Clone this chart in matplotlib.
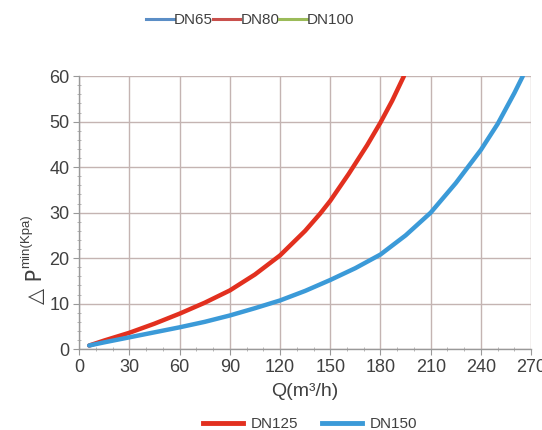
import matplotlib
matplotlib.use("Agg")
import matplotlib.pyplot as plt
from matplotlib.lines import Line2D
from matplotlib.ticker import MultipleLocator

plt.rcParams['font.family'] = ['Liberation Sans', 'DejaVu Sans']

# values
q_125 = [6, 15, 30, 45, 60, 75, 90, 105, 120, 135, 144, 150, 161, 172, 180, 187, 194]
dp_125 = [0.8, 1.9, 3.6, 5.6, 7.8, 10.2, 12.9, 16.4, 20.6, 26.0, 29.8, 32.6, 38.5, 44.8, 49.8, 54.6, 60]
q_150 = [6, 15, 30, 45, 60, 75, 90, 105, 120, 135, 150, 165, 180, 195, 210, 225, 240, 250, 260, 265]
dp_150 = [0.8, 1.5, 2.6, 3.7, 4.8, 6.0, 7.4, 9.0, 10.7, 12.8, 15.2, 17.8, 20.8, 25.0, 30.0, 36.5, 43.8, 49.5, 56.3, 60]

x_ticks = [0, 30, 60, 90, 120, 150, 180, 210, 240, 270]
y_ticks = [0, 10, 20, 30, 40, 50, 60]

top_names = ['DN65', 'DN80', 'DN100']
top_colors = ['#5b8ec6', '#c9504c', '#9bbb59']

red = '#e2301f'
blue = '#3b9ad8'
grid_c = '#c4b4b2'
txt = '#404040'

fig = plt.figure(figsize=(5.42, 4.30), dpi=100)
ax = fig.add_axes([0.146, 0.188, 0.834, 0.635])

ax.plot(q_125, dp_125, color=red, lw=3.2, solid_capstyle='round', solid_joinstyle='round', zorder=3)
ax.plot(q_150, dp_150, color=blue, lw=3.2, solid_capstyle='round', solid_joinstyle='round', zorder=3)

ax.set_xlim(0, 270)
ax.set_ylim(0, 60)
ax.set_xticks(x_ticks)
ax.set_yticks(y_ticks)
ax.xaxis.set_minor_locator(MultipleLocator(10))
ax.yaxis.set_minor_locator(MultipleLocator(2))
ax.grid(True, which='major', color=grid_c, lw=1.0)
ax.tick_params(which='major', direction='out', length=4, color='#999999',
               labelsize=13, labelcolor=txt, pad=3)
ax.tick_params(which='minor', direction='inout', length=3, color='#aaaaaa')
for s in ['top', 'right']:
    ax.spines[s].set_visible(False)
for s in ['left', 'bottom']:
    ax.spines[s].set_color('#999999')
    ax.spines[s].set_linewidth(1.0)

ax.set_xlabel('Q(m³/h)', fontsize=14, color=txt, labelpad=5)

# y label: "△ P" with small raised "min(Kpa)"
fig.text(0.066, 1 - 304 / 430, '△ P', rotation=90, fontsize=15, color=txt,
         ha='center', va='bottom', family=['DejaVu Sans'])
fig.text(0.049, 1 - 268 / 430, 'min(Kpa)', rotation=90, fontsize=9.5, color=txt,
         ha='center', va='bottom')

top_handles = [Line2D([], [], color=c, lw=2.2) for c in top_colors]
fig.legend(top_handles, top_names, loc='center', bbox_to_anchor=(0.462, 0.953),
           ncol=3, frameon=False, fontsize=11, handlelength=1.8,
           handletextpad=0.0, columnspacing=0.0, labelcolor=txt)

bot_handles = [Line2D([], [], color=red, lw=3.5), Line2D([], [], color=blue, lw=3.5)]
fig.legend(bot_handles, ['DN125', 'DN150'], loc='center', bbox_to_anchor=(0.572, 0.013),
           ncol=2, frameon=False, fontsize=11, handlelength=2.6,
           handletextpad=0.5, columnspacing=1.6, labelcolor=txt)

fig.savefig('out.png', dpi=100)
